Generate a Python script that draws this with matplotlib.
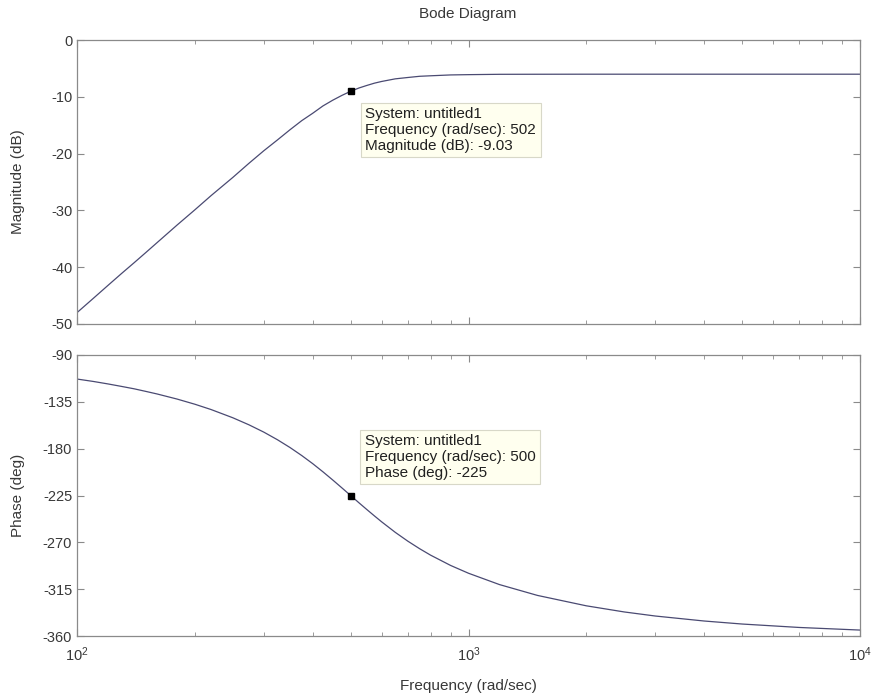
import matplotlib.pyplot as plt
from matplotlib.ticker import LogLocator, LogFormatterMathtext, NullFormatter

plt.rcParams['font.family'] = ['Liberation Sans', 'DejaVu Sans']
plt.rcParams['mathtext.fontset'] = 'custom'
plt.rcParams['mathtext.rm'] = 'Liberation Sans'
plt.rcParams['axes.unicode_minus'] = False

# values
freq = [100, 110, 120, 130, 140, 150, 160, 180, 200, 220, 250, 275, 300, 325,
        350, 375, 400, 425, 450, 475, 500, 525, 550, 575, 600, 650, 700, 750,
        800, 900, 1000, 1200, 1500, 2000, 3000, 5000, 10000]
mag_db = [-48.0, -45.5, -43.2, -41.1, -39.2, -37.4, -35.7, -32.6, -29.9,
          -27.4, -24.2, -21.7, -19.5, -17.6, -15.8, -14.2, -12.9, -11.6,
          -10.6, -9.75, -9.03, -8.45, -8.0, -7.6, -7.3, -6.84, -6.6, -6.39,
          -6.3, -6.15, -6.1, -6.04, -6.03, -6.02, -6.02, -6.02, -6.02]

freq_ph = [100, 110, 120, 130, 140, 150, 160, 180, 200, 220, 250, 275, 300,
           325, 350, 375, 400, 425, 450, 475, 500, 525, 550, 575, 600, 650,
           700, 750, 800, 900, 1000, 1200, 1500, 2000, 2500, 3000, 4000, 5000,
           7000, 10000]
phase_deg = [-113.1, -115.4, -117.8, -120.2, -122.5, -125.0, -127.4, -132.3,
             -137.3, -142.4, -150.3, -157.1, -164.1, -171.4, -178.9, -186.6,
             -194.4, -202.3, -210.1, -217.7, -225.0, -232.0, -238.5, -244.6,
             -250.3, -260.4, -268.9, -276.1, -282.3, -292.2, -299.7, -310.6,
             -321.0, -331.0, -336.9, -340.8, -345.6, -348.5, -351.8, -354.3]

mag_tip = (502, -9.03)
phase_tip = (500, -225)
mag_ticks = [0, -10, -20, -30, -40, -50]
phase_ticks = [-90, -135, -180, -225, -270, -315, -360]

line_col = '#4a4a72'
axis_col = '#8a8a8a'
text_col = '#383838'

fig = plt.figure(figsize=(8.74, 6.96), dpi=100)
ax1 = fig.add_axes([77 / 874, 1 - 324 / 696, 783 / 874, 284 / 696])
ax2 = fig.add_axes([77 / 874, 1 - 636 / 696, 783 / 874, 281 / 696])


def style(ax):
    ax.set_xscale('log')
    ax.set_xlim(100, 10000)
    for s in ax.spines.values():
        s.set_color(axis_col)
        s.set_linewidth(0.9)
    ax.xaxis.set_major_locator(LogLocator(base=10))
    ax.xaxis.set_minor_locator(LogLocator(base=10, subs=range(2, 10)))
    ax.xaxis.set_minor_formatter(NullFormatter())
    ax.tick_params(which='both', direction='in', top=True, right=True,
                   color=axis_col, labelcolor=text_col, labelsize=10.5)
    ax.tick_params(which='major', length=5)
    ax.tick_params(which='minor', length=3)
    ax.tick_params(axis='y', pad=3.5)
    ax.tick_params(axis='x', pad=7)


style(ax1)
style(ax2)

ax1.plot(freq, mag_db, color=line_col, lw=0.9)
ax1.set_ylim(-50, 0)
ax1.set_yticks(mag_ticks)
ax1.xaxis.set_major_formatter(NullFormatter())

ax2.plot(freq_ph, phase_deg, color=line_col, lw=0.9)
ax2.set_ylim(-360, -90)
ax2.set_yticks(phase_ticks)
ax2.xaxis.set_major_formatter(LogFormatterMathtext())

box = dict(boxstyle='square,pad=0.3', fc='#ffffef', ec='#d8d8c8', lw=0.8)

ax1.plot(*mag_tip, 's', color='black', ms=5)
ax1.annotate('System: untitled1\nFrequency (rad/sec): 502\nMagnitude (dB): -9.03',
             xy=mag_tip, xytext=(14, -16), textcoords='offset pixels',
             ha='left', va='top', fontsize=11, color='#202020',
             linespacing=1.15, bbox=box)

ax2.plot(*phase_tip, 's', color='black', ms=5)
ax2.annotate('System: untitled1\nFrequency (rad/sec): 500\nPhase (deg): -225',
             xy=phase_tip, xytext=(14, 61), textcoords='offset pixels',
             ha='left', va='top', fontsize=11, color='#202020',
             linespacing=1.15, bbox=box)

fig.text(468 / 874, 1 - 14 / 696, 'Bode Diagram', ha='center', va='center',
         fontsize=11, color=text_col)
fig.text(18 / 874, 1 - 182 / 696, 'Magnitude (dB)', rotation=90,
         ha='center', va='center', fontsize=11, color=text_col)
fig.text(18 / 874, 1 - 495 / 696, 'Phase (deg)', rotation=90,
         ha='center', va='center', fontsize=11, color=text_col)
fig.text(468 / 874, 1 - 686 / 696, 'Frequency (rad/sec)', ha='center',
         va='center', fontsize=11, color=text_col)

fig.savefig('out.png', dpi=100)
